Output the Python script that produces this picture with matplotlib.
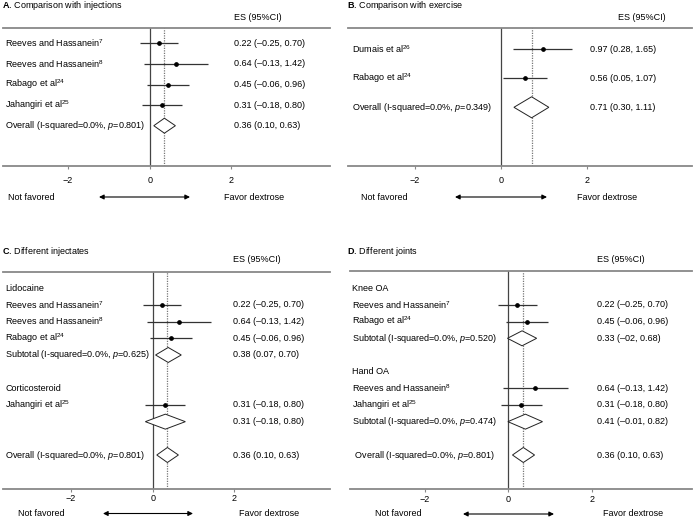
import matplotlib
matplotlib.use("Agg")
import matplotlib.pyplot as plt
from matplotlib.patches import Polygon

plt.rcParams['font.family'] = ['Liberation Sans', 'DejaVu Sans']
plt.rcParams['mathtext.fontset'] = 'custom'
plt.rcParams['mathtext.rm'] = 'Liberation Sans'
plt.rcParams['mathtext.it'] = 'Liberation Sans:italic'
plt.rcParams['mathtext.bf'] = 'Liberation Sans:bold'

FS = 6.5

# --- Daten: A. Vergleich mit Injektionen
a_labels = ["Reeves and Hassanein$^{7}$", "Reeves and Hassanein$^{8}$",
            "Rabago et al$^{24}$", "Jahangiri et al$^{25}$",
            "Overall (I-squared=0.0%, $p$=0.801)"]
a_kind = ["study", "study", "study", "study", "overall"]
a_es = [0.22, 0.64, 0.45, 0.31, 0.36]
a_lo = [-0.25, -0.13, -0.06, -0.18, 0.10]
a_hi = [0.70, 1.42, 0.96, 0.80, 0.63]
a_txt = ["0.22 (–0.25, 0.70)", "0.64 (–0.13, 1.42)", "0.45 (–0.06, 0.96)",
         "0.31 (–0.18, 0.80)", "0.36 (0.10, 0.63)"]

# --- B. Vergleich mit Training
b_labels = ["Dumais et al$^{26}$", "Rabago et al$^{24}$",
            "Overall (I-squared=0.0%, $p$=0.349)"]
b_kind = ["study", "study", "overall"]
b_es = [0.97, 0.56, 0.71]
b_lo = [0.28, 0.05, 0.30]
b_hi = [1.65, 1.07, 1.11]
b_txt = ["0.97 (0.28, 1.65)", "0.56 (0.05, 1.07)", "0.71 (0.30, 1.11)"]

# --- C. Verschiedene Injektate
c_labels = ["Lidocaine", "Reeves and Hassanein$^{7}$", "Reeves and Hassanein$^{8}$",
            "Rabago et al$^{24}$", "Subtotal (I-squared=0.0%, $p$=0.625)",
            "Corticosteroid", "Jahangiri et al$^{25}$", "",
            "Overall (I-squared=0.0%, $p$=0.801)"]
c_kind = ["head", "study", "study", "study", "sub", "head", "study", "sub", "overall"]
c_es = [None, 0.22, 0.64, 0.45, 0.38, None, 0.31, 0.31, 0.36]
c_lo = [None, -0.25, -0.13, -0.06, 0.07, None, -0.18, -0.18, 0.10]
c_hi = [None, 0.70, 1.42, 0.96, 0.70, None, 0.80, 0.80, 0.63]
c_txt = ["", "0.22 (–0.25, 0.70)", "0.64 (–0.13, 1.42)", "0.45 (–0.06, 0.96)",
         "0.38 (0.07, 0.70)", "", "0.31 (–0.18, 0.80)", "0.31 (–0.18, 0.80)",
         "0.36 (0.10, 0.63)"]

# --- D. Verschiedene Gelenke
d_labels = ["Knee OA", "Reeves and Hassanein$^{7}$", "Rabago et al$^{24}$",
            "Subtotal (I-squared=0.0%, $p$=0.520)", "Hand OA",
            "Reeves and Hassanein$^{8}$", "Jahangiri et al$^{25}$",
            "Subtotal (I-squared=0.0%, $p$=0.474)",
            " Overall (I-squared=0.0%, $p$=0.801)"]
d_kind = ["head", "study", "study", "sub", "head", "study", "study", "sub", "overall"]
d_es = [None, 0.22, 0.45, 0.33, None, 0.64, 0.31, 0.41, 0.36]
d_lo = [None, -0.25, -0.06, -0.02, None, -0.13, -0.18, -0.01, 0.10]
d_hi = [None, 0.70, 0.96, 0.68, None, 1.42, 0.80, 0.82, 0.63]
d_txt = ["", "0.22 (–0.25, 0.70)", "0.45 (–0.06, 0.96)", "0.33 (–02, 0.68)", "",
         "0.64 (–0.13, 1.42)", "0.31 (–0.18, 0.80)", "0.41 (–0.01, 0.82)",
         "0.36 (0.10, 0.63)"]

W, H = 695, 520
fig = plt.figure(figsize=(W / 100, H / 100), dpi=100)


def panel(title, labels, kind, es, lo, hi, txt, lay):
    left, right, top, bot = lay['box']
    zero, ppu = lay['zero'], lay['ppu']
    first, step = lay['first'], lay['step']
    ax = fig.add_axes([left / W, 1 - bot / H, (right - left) / W, (bot - top) / H])
    ax.set_xlim((left - zero) / ppu, (right - zero) / ppu)
    ax.set_ylim((bot - first) / step, (top - first) / step)

    # Zeilenpositionen: nach jedem Subtotal eine Leerzeile
    pos, y = [], 0
    for k in kind:
        pos.append(y)
        y += 2 if k == 'sub' else 1

    overall = es[kind.index('overall')]
    ax.axvline(0, color='#444', lw=0.9, zorder=1)
    ax.axvline(overall, color='#777', lw=0.9, ls=(0, (1, 1)), zorder=1)

    half = lay['dia'] / step
    tr = ax.get_yaxis_transform()
    lx = (lay['lab'] - left) / (right - left)
    ex = (lay['esx'] - left) / (right - left)
    for k, lab, e, l, h, t, p in zip(kind, labels, es, lo, hi, txt, pos):
        ax.text(lx, p, lab, transform=tr, fontsize=FS, va='center', ha='left')
        if t:
            ax.text(ex, p, t, transform=tr, fontsize=FS, va='center', ha='left')
        if k == 'study':
            ax.hlines(p, l, h, color='#333', lw=0.9, zorder=2)
            ax.plot(e, p, 'o', ms=2.4, color='black', zorder=3)
        elif k in ('sub', 'overall'):
            ax.add_patch(Polygon([(l, p), (e, p - half), (h, p), (e, p + half)],
                                 closed=True, facecolor='white', edgecolor='#222',
                                 lw=0.7, zorder=3))

    for s in ('left', 'right'):
        ax.spines[s].set_visible(False)
    for s in ('top', 'bottom'):
        ax.spines[s].set_color('#888')
        ax.spines[s].set_linewidth(1.3)
    ax.set_yticks([])
    ax.set_xticks([-2, 0, 2])
    ax.tick_params(axis='x', labelsize=FS, length=2.5, width=0.8, color='#888',
                   pad=lay['pad'])

    fig.text(lay['tx'] / W, 1 - lay['ty'] / H, title, fontsize=FS, va='center', ha='left')
    fig.text(lay['hx'] / W, 1 - lay['hy'] / H, "ES (95%CI)", fontsize=FS,
             va='center', ha='left')
    fig.text(lay['nf'] / W, 1 - lay['ay'] / H, "Not favored", fontsize=FS,
             va='center', ha='left')
    fig.text(lay['fd'] / W, 1 - lay['ay'] / H, "Favor dextrose", fontsize=FS,
             va='center', ha='left')
    ax.annotate("", xy=(lay['a1'], H - lay['ay']), xytext=(lay['a0'], H - lay['ay']),
                xycoords='figure pixels', textcoords='figure pixels',
                arrowprops=dict(arrowstyle='<|-|>', color='black', lw=0.8,
                                mutation_scale=7, shrinkA=0, shrinkB=0))


panel("$\\mathbf{A}$. Comparison with injections", a_labels, a_kind, a_es, a_lo, a_hi, a_txt,
      dict(box=(3, 330, 28.3, 166), zero=149.7, ppu=40.8, first=43.3, step=20.6,
           dia=7.5, lab=5, esx=234, pad=5, tx=2, ty=5, hx=234, hy=17,
           nf=8, fd=224, ay=197, a0=99, a1=190))
panel("$\\mathbf{B}$. Comparison with exercise", b_labels, b_kind, b_es, b_lo, b_hi, b_txt,
      dict(box=(348, 692, 28.3, 166), zero=501, ppu=43.1, first=49.3, step=29,
           dia=10.5, lab=352, esx=590, pad=5, tx=347, ty=5, hx=618, hy=17,
           nf=361, fd=577, ay=197, a0=455, a1=547))
panel("$\\mathbf{C}$. Different injectates", c_labels, c_kind, c_es, c_lo, c_hi, c_txt,
      dict(box=(3, 330, 272.3, 488.5), zero=152.7, ppu=40.8, first=288.3, step=16.67,
           dia=7.5, lab=5, esx=233, pad=1.5, tx=2, ty=251, hx=233, hy=259,
           nf=18, fd=239, ay=513.5, a0=103, a1=193))
panel("$\\mathbf{D}$. Different joints", d_labels, d_kind, d_es, d_lo, d_hi, d_txt,
      dict(box=(350, 692, 271, 489.3), zero=508.3, ppu=41.7, first=288.3, step=16.67,
           dia=7.5, lab=352, esx=597, pad=1.5, tx=347, ty=251, hx=597, hy=259,
           nf=375, fd=603, ay=514, a0=463, a1=554))

fig.savefig("out.png", dpi=100, facecolor='white')
